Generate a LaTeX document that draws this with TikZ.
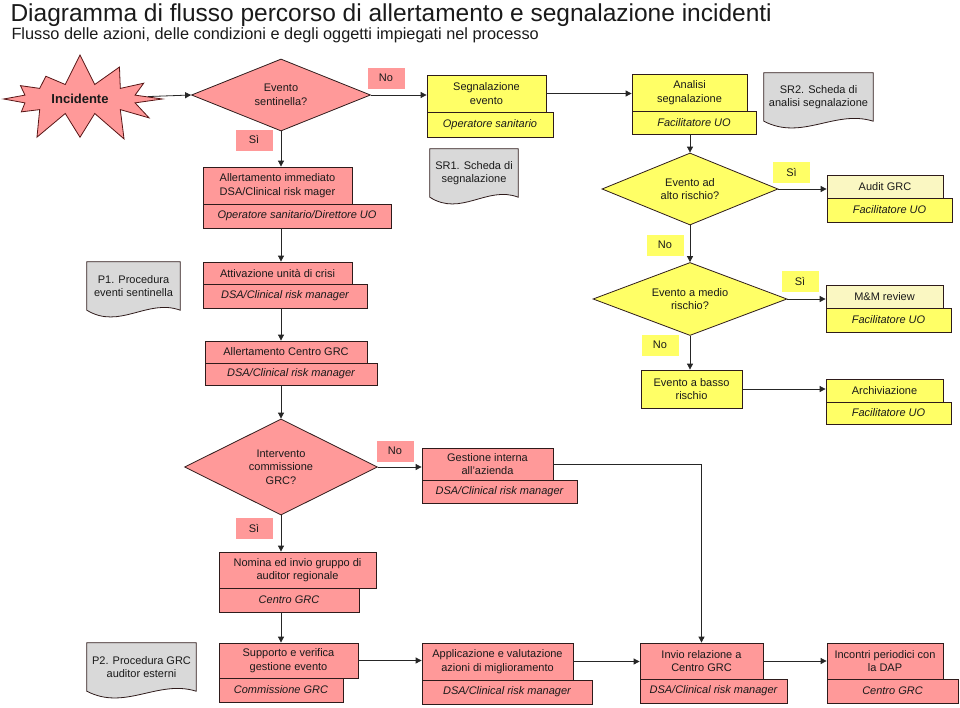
\documentclass[tikz,border=0pt]{standalone}
\usepackage{fontspec}
\setmainfont{Liberation Sans}
\usetikzlibrary{shapes.geometric,shapes.symbols,arrows.meta,calc,backgrounds}
\definecolor{rosa}{HTML}{FF9999}
\definecolor{giallo}{HTML}{FFFF66}
\definecolor{giallino}{HTML}{FAF7C2}
\definecolor{grigio}{HTML}{D9D9D9}
\definecolor{bordo}{HTML}{2E1B1B}
\definecolor{testo}{HTML}{1A1A1A}
\begin{document}
\begin{tikzpicture}[x=1pt,y=-1pt,
  font=\fontsize{11}{13.5}\selectfont, text=testo,
  sz/.style 2 args={minimum width=#1pt,minimum height=#2pt},
  box/.style={draw=bordo,line width=0.8pt,inner sep=0pt,align=center},
  pbox/.style={box,fill=rosa},
  ybox/.style={box,fill=giallo},
  ruolo/.style={font=\fontsize{11}{13.5}\selectfont\itshape},
  dec/.style={diamond,aspect=2.4,draw=bordo,line width=0.8pt,inner sep=0pt,align=center},
  lab/.style={inner sep=0pt,sz={37}{21}},
  doc/.style={inner sep=0pt,align=center,minimum height=48pt},
  arr/.style={draw=black!85,line width=0.8pt,-{Triangle[length=6pt,width=6pt]}}]
\useasboundingbox (0,0) rectangle (960,707);
% titolo
\node[anchor=base west,font=\fontsize{24.5}{28}\selectfont] (titolo) at (7,21) {Diagramma di flusso percorso di allertamento e segnalazione incidenti};
\node[anchor=base west,font=\fontsize{16.3}{19}\selectfont] (sottotitolo) at (8,39) {Flusso delle azioni, delle condizioni e degli oggetti impiegati nel processo};

% colonna rosa
\node[starburst,starburst points=12,starburst point height=32pt,random starburst=7,
  fill=rosa,draw=bordo!80!red,line width=0.8pt,inner sep=0pt,sz={178}{94},
  font=\fontsize{13}{15}\selectfont\bfseries] (inc) at (80,99) {Incidente};
\node[dec,fill=rosa,sz={179}{72}] (sen) at (281,95) {Evento\\sentinella?};
\node[lab,fill=rosa] (no1) at (386,78) {No};
\node[lab,fill=rosa] (si1) at (254,140) {Sì};
\node[pbox,sz={149}{37}] (allim) at (277.5,185.5) {Allertamento immediato\\DSA/Clinical risk mager};
\node[pbox,ruolo,sz={188}{24}] (allimr) at (297,216) {Operatore sanitario/Direttore UO};
\node[pbox,sz={149}{22}] (attiv) at (277.5,273) {Attivazione unità di crisi};
\node[pbox,ruolo,sz={164}{24}] (attivr) at (285,296) {DSA/Clinical risk manager};
\node[pbox,sz={162}{22}] (allgrc) at (286,352) {Allertamento Centro GRC};
\node[pbox,ruolo,sz={172}{22}] (allgrcr) at (291,374) {DSA/Clinical risk manager};
\node[dec,fill=rosa,sz={193}{96}] (grc) at (281,467) {Intervento\\commissione\\GRC?};
\node[lab,fill=rosa] (no2) at (395,451) {No};
\node[lab,fill=rosa] (si2) at (254,528) {Sì};
\node[pbox,sz={131}{32}] (gest) at (487.5,464) {Gestione interna\\all'azienda};
\node[pbox,ruolo,sz={155}{23}] (gestr) at (499.5,491.5) {DSA/Clinical risk manager};
\node[pbox,sz={157}{36}] (nom) at (297.5,570) {Nomina ed invio gruppo di\\auditor regionale};
\node[pbox,ruolo,sz={140}{24}] (nomr) at (289,600) {Centro GRC};

% riga in basso
\node[pbox,sz={139}{35}] (supp) at (288.5,660.5) {Supporto e verifica\\gestione evento};
\node[pbox,ruolo,sz={124}{24}] (suppr) at (281,690) {Commissione GRC};
\node[pbox,sz={151}{37}] (appl) at (497.5,661.5) {Applicazione e valutazione\\azioni di miglioramento};
\node[pbox,ruolo,sz={170}{24}] (applr) at (507,692) {DSA/Clinical risk manager};
\node[pbox,sz={123}{36}] (invio) at (701.5,661) {Invio relazione a\\Centro GRC};
\node[pbox,ruolo,sz={147}{24}] (invior) at (713.5,691) {DSA/Clinical risk manager};
\node[pbox,sz={116}{36}] (inc2) at (885,661) {Incontri periodici con\\la DAP};
\node[pbox,ruolo,sz={131}{24}] (inc2r) at (892.5,691) {Centro GRC};

% colonna gialla
\node[ybox,sz={119}{37}] (segn) at (486.5,93.5) {Segnalazione\\evento};
\node[ybox,ruolo,sz={126}{25}] (segnr) at (490,124.5) {Operatore sanitario};
\node[ybox,sz={115}{37}] (anal) at (689.5,92.5) {Analisi\\segnalazione};
\node[ybox,ruolo,sz={124}{23}] (analr) at (694,122.5) {Facilitatore UO};
\node[dec,fill=giallo,sz={176}{72}] (alto) at (690,189) {Evento ad\\alto rischio?};
\node[lab,fill=giallo] (si3) at (791.5,172) {Sì};
\node[ybox,fill=giallino,sz={116}{23}] (audit) at (885,186.5) {Audit GRC};
\node[ybox,ruolo,sz={125}{24}] (auditr) at (889.5,210) {Facilitatore UO};
\node[lab,fill=giallo] (no3) at (665,245) {No};
\node[dec,fill=giallo,sz={194}{73}] (medio) at (690,299) {Evento a medio\\rischio?};
\node[lab,fill=giallo] (si4) at (800,281) {Sì};
\node[ybox,fill=giallino,sz={117}{23}] (mm) at (884.5,296.5) {M\&M review};
\node[ybox,ruolo,sz={125}{24}] (mmr) at (888.5,320) {Facilitatore UO};
\node[lab,fill=giallo] (no4) at (660,345) {No};
\node[ybox,sz={101}{38}] (basso) at (691.5,389) {Evento a basso\\rischio};
\node[ybox,sz={117}{23}] (arch) at (884.5,390.5) {Archiviazione};
\node[ybox,ruolo,sz={125}{22}] (archr) at (888.5,413) {Facilitatore UO};

% documenti
\node[doc,minimum width=88pt] (sr1) at (474,173) {SR1. Scheda di\\segnalazione};
\node[doc,minimum width=109pt] (sr2) at (818.5,97) {SR2. Scheda di\\analisi segnalazione};
\node[doc,minimum width=93pt] (p1) at (133.5,286) {P1. Procedura\\eventi sentinella};
\node[doc,minimum width=109pt] (p2) at (141.5,667) {P2. Procedura GRC\\auditor esterni};
\begin{scope}[on background layer]
\foreach \d in {sr1,sr2,p1,p2}
  \draw[draw=bordo,fill=grigio,line width=0.8pt] (\d.north west) -- (\d.north east) -- (\d.south east)
    .. controls ($(\d.south east)!0.35!(\d.south west)+(0,-12)$) and ($(\d.south east)!0.65!(\d.south west)+(0,20)$) .. (\d.south west) -- cycle;
\end{scope}

% frecce
\draw[arr] (inc) -- (sen.west);
\draw[arr] (sen.east) -- (sen.east -| segn.west);
\draw[arr] (segn.east) -- (segn.east -| anal.west);
\draw[arr] (alto.north |- analr.south) -- (alto.north);
\draw[arr] (alto.east) -- (alto.east -| audit.west);
\draw[arr] (alto.south) -- (medio.north);
\draw[arr] (medio.east) -- (medio.east -| mm.west);
\draw[arr] (medio.south) -- (medio.south |- basso.north);
\draw[arr] (basso.east) -- (basso.east -| arch.west);
\draw[arr] (sen.south) -- (sen.south |- allim.north);
\draw[arr] (sen.south |- allimr.south) -- (sen.south |- attiv.north);
\draw[arr] (sen.south |- attivr.south) -- (sen.south |- allgrc.north);
\draw[arr] (sen.south |- allgrcr.south) -- (grc.north);
\draw[arr] (grc.east) -- (grc.east -| gest.west);
\draw[arr] (grc.south) -- (grc.south |- nom.north);
\draw[arr] (grc.south |- nomr.south) -- (grc.south |- supp.north);
\draw[arr] (gest.east) -| (invio.north);
\draw[arr] (supp.east) -- (supp.east -| appl.west);
\draw[arr] (appl.east) -- (appl.east -| invio.west);
\draw[arr] (invio.east) -- (invio.east -| inc2.west);
\end{tikzpicture}
\end{document}
